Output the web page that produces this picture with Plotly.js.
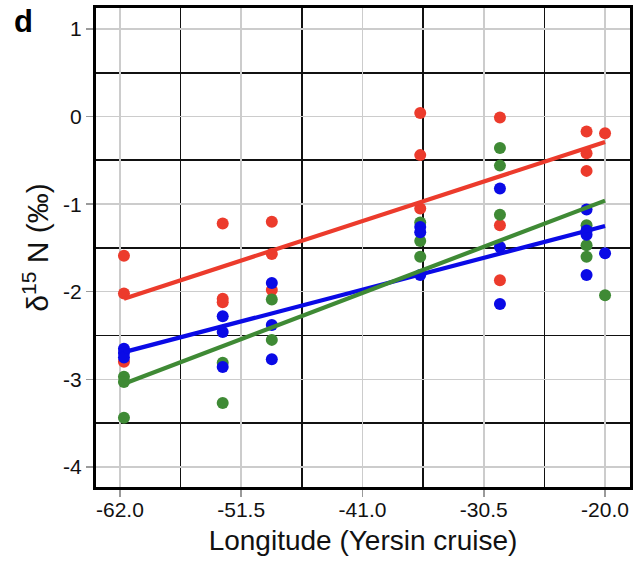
<!DOCTYPE html>
<html>
<head>
<meta charset="utf-8">
<script src="https://cdn.plot.ly/plotly-3.0.1.min.js"></script>
<style>html,body{margin:0;padding:0;background:#fff;}#chart{width:633px;height:576px;}</style>
</head>
<body>
<div id="chart"></div>
<script>
// Station longitudes (Yersin cruise)
const redX   = [-61.65,-61.65,-61.65, -53.1,-53.1,-53.1, -48.85,-48.85,-48.85, -36.0,-36.0,-36.0, -29.1,-29.1,-29.1, -21.6,-21.6,-21.6, -20.0];
const redY   = [-1.59,-2.02,-2.80, -1.22,-2.08,-2.12, -1.20,-1.57,-1.98, 0.04,-0.44,-1.05, -0.01,-1.24,-1.87, -0.17,-0.42,-0.62, -0.19];
const greenX = [-61.65,-61.65,-61.65, -53.1,-53.1, -48.85,-48.85, -36.0,-36.0,-36.0, -29.1,-29.1,-29.1, -21.6,-21.6,-21.6, -20.0];
const greenY = [-2.97,-3.03,-3.44, -2.81,-3.27, -2.09,-2.55, -1.21,-1.42,-1.60, -0.36,-0.56,-1.12, -1.24,-1.47,-1.60, -2.04];
const blueX  = [-61.65,-61.65,-61.65, -53.1,-53.1,-53.1, -48.85,-48.85,-48.85, -36.0,-36.0,-36.0, -29.1,-29.1,-29.1, -21.6,-21.6,-21.6,-21.6, -20.0];
const blueY  = [-2.65,-2.70,-2.75, -2.28,-2.46,-2.86, -1.90,-2.38,-2.77, -1.26,-1.32,-1.81, -0.82,-1.49,-2.14, -1.06,-1.30,-1.35,-1.81, -1.56];

// Fitted lines
const fitX   = [-61.65, -20.0];
const redFit   = [-2.08, -0.29];
const blueFit  = [-2.69, -1.25];
const greenFit = [-3.05, -0.96];

// Ticks
const xTickVals = [-62.0, -51.5, -41.0, -30.5, -20.0];
const xTickText = ['-62.0', '-51.5', '-41.0', '-30.5', '-20.0'];
const xBlackGrid = [-56.75, -46.25, -35.75, -25.25];
const yTickVals = [-4, -3, -2, -1, 0, 1];
const yTickText = ['-4', '-3', '-2', '-1', '0', '1'];
const yBlackGrid = [-3.5, -2.5, -1.5, -0.5, 0.5];

const RED = '#ec3b2c', BLUE = '#0a0ae6', GREEN = '#3f8a35';
const FONT = 'Liberation Sans, Arial, sans-serif';

function pts(x, y, c) {
  return {x: x, y: y, type: 'scatter', mode: 'markers', hoverinfo: 'skip',
    marker: {color: c, size: 12, line: {width: 0}}, showlegend: false};
}
function fit(y, c) {
  return {x: fitX, y: y, type: 'scatter', mode: 'lines', hoverinfo: 'skip',
    line: {color: c, width: 4.2}, showlegend: false};
}

const data = [
  pts(redX, redY, RED), pts(greenX, greenY, GREEN), pts(blueX, blueY, BLUE),
  fit(redFit, RED), fit(blueFit, BLUE), fit(greenFit, GREEN)
];

const axisCommon = {
  showline: true, mirror: true, linecolor: '#000', linewidth: 3,
  ticks: 'outside', ticklen: 7, tickwidth: 1.5, tickcolor: '#9a9a9a',
  showgrid: true, gridcolor: '#cccccc', gridwidth: 1.5,
  zeroline: false, tickfont: {family: FONT, size: 21, color: '#111'},
  tickmode: 'array'
};

const layout = {
  width: 633, height: 576,
  margin: {l: 96, r: 3, t: 8, b: 89},
  paper_bgcolor: '#fff', plot_bgcolor: '#fff',
  xaxis: Object.assign({}, axisCommon, {
    range: [-64.07, -17.84], tickvals: xTickVals, ticktext: xTickText,
    ticklabelstandoff: -5,
    minor: {tickvals: xBlackGrid, showgrid: true, gridcolor: '#111', gridwidth: 1.8, ticks: ''},
    title: {text: 'Longitude (Yersin cruise)', font: {family: FONT, size: 28, color: '#111'}, standoff: 11}
  }),
  yaxis: Object.assign({}, axisCommon, {
    range: [-4.23, 1.24], tickvals: yTickVals, ticktext: yTickText,
    minor: {tickvals: yBlackGrid, showgrid: true, gridcolor: '#111', gridwidth: 1.8, ticks: ''},
    title: {text: 'δ<sup>15</sup> N (‰)', font: {family: FONT, size: 30, color: '#111'}, standoff: 6}
  }),
  annotations: [{
    text: '<b>d</b>', xref: 'paper', yref: 'paper', x: -0.135, y: 0.972,
    xanchor: 'center', yanchor: 'middle', showarrow: false,
    font: {family: FONT, size: 31, color: '#000'}
  }]
};

Plotly.newPlot('chart', data, layout, {displayModeBar: false, staticPlot: true});
</script>
</body>
</html>
